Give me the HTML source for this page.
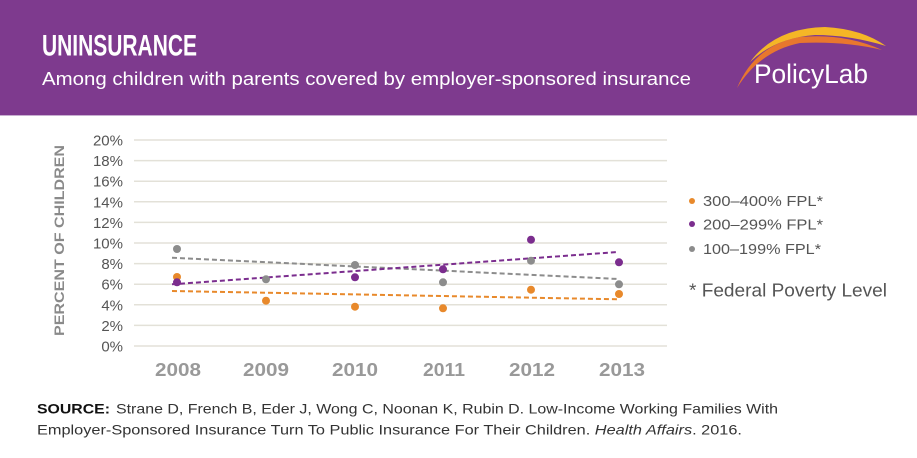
<!DOCTYPE html>
<html>
<head>
<meta charset="utf-8">
<style>
html,body{margin:0;padding:0;background:#fff;}
svg{display:block;}
text{font-family:"Liberation Sans",sans-serif;}
</style>
</head>
<body>
<svg width="917" height="458" viewBox="0 0 917 458" xmlns="http://www.w3.org/2000/svg">
  <!-- header -->
  <rect x="0" y="0" width="917" height="115" fill="#7e3a8e"/>
  <rect x="0" y="115" width="917" height="1" fill="#c7aed0"/>
  <text x="42" y="55.5" font-size="30" font-weight="bold" fill="#fff" textLength="155" lengthAdjust="spacingAndGlyphs">UNINSURANCE</text>
  <text x="42" y="85" font-size="18" fill="#fff" textLength="649" lengthAdjust="spacingAndGlyphs">Among children with parents covered by employer-sponsored insurance</text>

  <!-- logo -->
  <path d="M737 88 Q755 45 800 37 Q845 33 882 50 Q845 41 800 43 Q760 51 737 88 Z" fill="#e8772e"/>
  <path d="M750 62 Q775 28 825 27 Q862 29 886 46 Q850 35 815 35 Q775 38 750 62 Z" fill="#f5b626"/>
  <text x="754" y="83" font-size="27" fill="#fff" textLength="114" lengthAdjust="spacingAndGlyphs">PolicyLab</text>

  <!-- gridlines -->
  <g stroke="#e3e1d8" stroke-width="1.5">
    <line x1="134" y1="140" x2="667" y2="140"/>
    <line x1="134" y1="160.6" x2="667" y2="160.6"/>
    <line x1="134" y1="181.2" x2="667" y2="181.2"/>
    <line x1="134" y1="201.8" x2="667" y2="201.8"/>
    <line x1="134" y1="222.4" x2="667" y2="222.4"/>
    <line x1="134" y1="243" x2="667" y2="243"/>
    <line x1="134" y1="263.6" x2="667" y2="263.6"/>
    <line x1="134" y1="284.2" x2="667" y2="284.2"/>
    <line x1="134" y1="304.8" x2="667" y2="304.8"/>
    <line x1="134" y1="325.4" x2="667" y2="325.4"/>
    <line x1="134" y1="346" x2="667" y2="346"/>
  </g>

  <!-- y labels -->
  <g font-size="15" fill="#555" text-anchor="end">
    <text x="123" y="145.5">20%</text>
    <text x="123" y="166.1">18%</text>
    <text x="123" y="186.7">16%</text>
    <text x="123" y="207.3">14%</text>
    <text x="123" y="227.9">12%</text>
    <text x="123" y="248.5">10%</text>
    <text x="123" y="269.1">8%</text>
    <text x="123" y="289.7">6%</text>
    <text x="123" y="310.3">4%</text>
    <text x="123" y="330.9">2%</text>
    <text x="123" y="351.5">0%</text>
  </g>

  <!-- y axis title -->
  <text transform="translate(64,240.5) rotate(-90)" text-anchor="middle" font-size="14" font-weight="bold" fill="#8a8a8a" textLength="191" lengthAdjust="spacingAndGlyphs">PERCENT OF CHILDREN</text>

  <!-- x labels -->
  <g font-size="18" font-weight="bold" fill="#999" text-anchor="middle">
    <text x="178" y="376" textLength="46" lengthAdjust="spacingAndGlyphs">2008</text>
    <text x="266" y="376" textLength="46" lengthAdjust="spacingAndGlyphs">2009</text>
    <text x="355" y="376" textLength="46" lengthAdjust="spacingAndGlyphs">2010</text>
    <text x="444" y="376" textLength="42" lengthAdjust="spacingAndGlyphs">2011</text>
    <text x="532" y="376" textLength="46" lengthAdjust="spacingAndGlyphs">2012</text>
    <text x="622" y="376" textLength="46" lengthAdjust="spacingAndGlyphs">2013</text>
  </g>

  <!-- trend lines -->
  <g stroke-width="2" stroke-dasharray="5,3" fill="none">
    <line x1="172" y1="257.7" x2="618" y2="279" stroke="#8c8c8c"/>
    <line x1="172" y1="284.3" x2="618" y2="252" stroke="#7b2d8e"/>
    <line x1="172" y1="291" x2="618" y2="299.3" stroke="#e8892b"/>
  </g>

  <!-- points -->
  <g fill="#8c8c8c">
    <circle cx="177" cy="249" r="4"/>
    <circle cx="266" cy="279.3" r="4"/>
    <circle cx="355" cy="265" r="4"/>
    <circle cx="443" cy="282.3" r="4"/>
    <circle cx="531" cy="260.7" r="4"/>
    <circle cx="619" cy="284.3" r="4"/>
  </g>
  <g fill="#e8892b">
    <circle cx="177" cy="277" r="4"/>
    <circle cx="266" cy="300.7" r="4"/>
    <circle cx="355" cy="306.7" r="4"/>
    <circle cx="443" cy="308.3" r="4"/>
    <circle cx="531" cy="289.7" r="4"/>
    <circle cx="619" cy="294" r="4"/>
  </g>
  <g fill="#7b2d8e">
    <circle cx="177" cy="282.3" r="4"/>
    <circle cx="355" cy="277.3" r="4"/>
    <circle cx="443" cy="269.3" r="4"/>
    <circle cx="531" cy="239.7" r="4"/>
    <circle cx="619" cy="262.3" r="4"/>
  </g>

  <!-- legend -->
  <circle cx="692" cy="201" r="3" fill="#e8892b"/>
  <circle cx="692" cy="224" r="3" fill="#7b2d8e"/>
  <circle cx="692" cy="249" r="3" fill="#8c8c8c"/>
  <g font-size="15" fill="#555">
    <text x="703" y="206" textLength="120" lengthAdjust="spacingAndGlyphs">300–400% FPL*</text>
    <text x="703" y="229.5" textLength="120" lengthAdjust="spacingAndGlyphs">200–299% FPL*</text>
    <text x="703" y="254" textLength="118" lengthAdjust="spacingAndGlyphs">100–199% FPL*</text>
  </g>
  <text x="689" y="296.5" font-size="18" fill="#555" textLength="198" lengthAdjust="spacingAndGlyphs">* Federal Poverty Level</text>

  <!-- source -->
  <text x="37" y="413.3" font-size="14" font-weight="bold" fill="#111" textLength="73" lengthAdjust="spacingAndGlyphs">SOURCE:</text>
  <text x="116" y="413.3" font-size="14" fill="#333" textLength="662" lengthAdjust="spacingAndGlyphs">Strane D, French B, Eder J, Wong C, Noonan K, Rubin D. Low-Income Working Families With</text>
  <text x="37" y="434.3" font-size="14" fill="#333" textLength="705" lengthAdjust="spacingAndGlyphs">Employer-Sponsored Insurance Turn To Public Insurance For Their Children. <tspan font-style="italic">Health Affairs</tspan>. 2016.</text>
</svg>
</body>
</html>
